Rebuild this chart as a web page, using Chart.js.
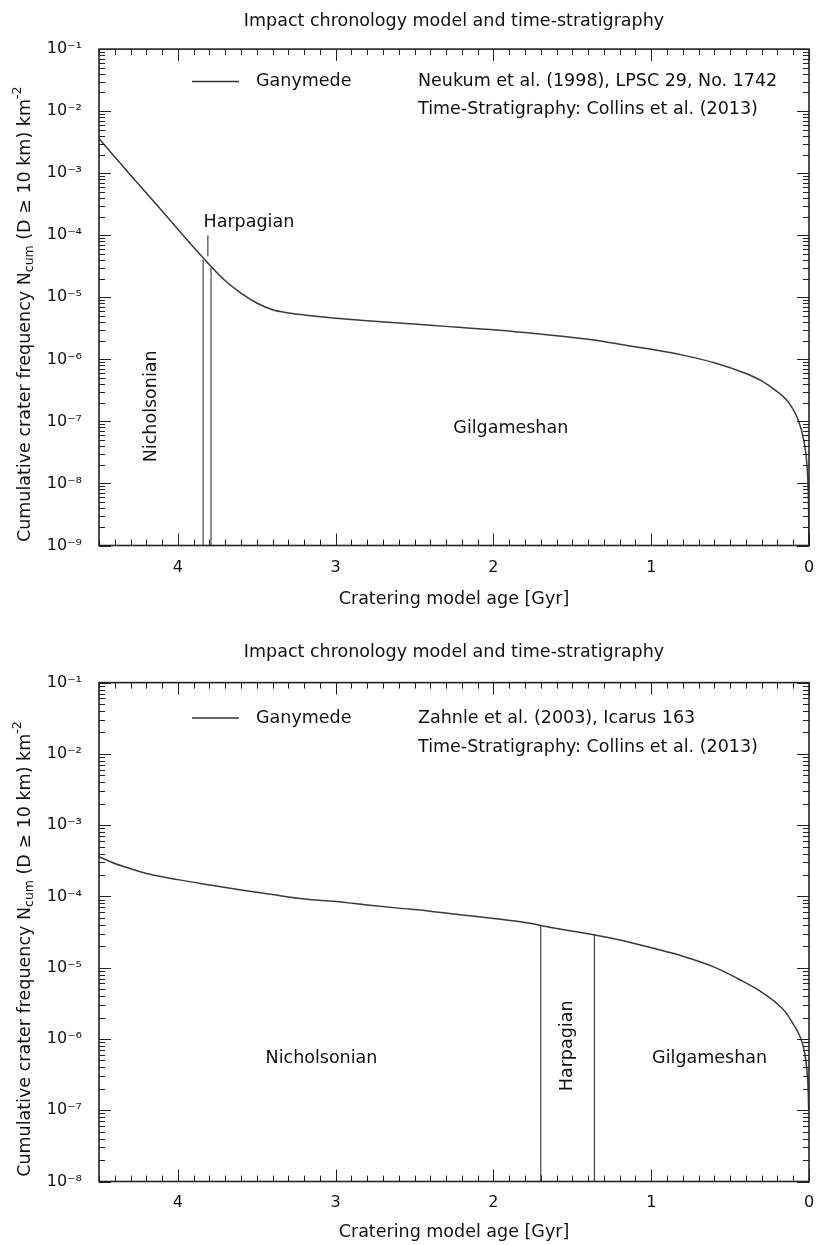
<!DOCTYPE html>
<html>
<head>
<meta charset="utf-8">
<title>Ganymede impact chronology</title>
<script src="https://cdn.jsdelivr.net/npm/chart.js@4/dist/chart.umd.min.js"></script>
<style>
  html, body { margin: 0; padding: 0; background: #fff; overflow: hidden; }
  .box { position: absolute; left: 0; width: 818px; }
  #box1 { top: 0; height: 620px; }
  #box2 { top: 631px; height: 614px; }
</style>
</head>
<body>
<div class="box" id="box1"><canvas id="neukumChart"></canvas></div>
<div class="box" id="box2"><canvas id="zahnleChart"></canvas></div>
<script>
/* Ganymede, Neukum et al. (1998): age [Gyr] -> N(D>=10 km) per km^2 */
const neukumAge = [4.5, 4.4, 4.3, 4.2, 4.1, 4.0, 3.9, 3.8, 3.7, 3.6, 3.5, 3.4, 3.3, 3.2, 3.0, 2.8, 2.6, 2.4, 2.2, 2.0,
                   1.8, 1.6, 1.4, 1.2, 1.0, 0.8, 0.6, 0.4, 0.3, 0.2, 0.14, 0.1, 0.07, 0.05, 0.035, 0.02, 0.01, 0.005, 0.002, 0.0006];
const neukumN = [3.6e-3, 1.83e-3, 9.3e-4, 4.8e-4, 2.45e-4, 1.25e-4, 6.4e-5, 3.35e-5, 1.85e-5, 1.17e-5, 8.1e-6, 6.3e-6, 5.6e-6, 5.2e-6, 4.6e-6, 4.2e-6, 3.85e-6, 3.55e-6, 3.25e-6, 3.0e-6,
                 2.7e-6, 2.4e-6, 2.1e-6, 1.75e-6, 1.45e-6, 1.17e-6, 8.8e-7, 5.9e-7, 4.5e-7, 3.0e-7, 2.2e-7, 1.55e-7, 1.08e-7, 7.5e-8, 5.2e-8, 3.1e-8, 1.55e-8, 7.8e-9, 3.1e-9, 9.5e-10];

/* Ganymede, Zahnle et al. (2003) */
const zahnleAge = [4.5, 4.4, 4.3, 4.2, 4.0, 3.8, 3.6, 3.4, 3.2, 3.0, 2.8, 2.6, 2.4, 2.2, 2.0, 1.8, 1.6, 1.4, 1.2, 1.0,
                   0.8, 0.6, 0.45, 0.3, 0.2, 0.15, 0.1, 0.07, 0.05, 0.035, 0.02, 0.01, 0.005, 0.002];
const zahnleN = [3.6e-4, 2.9e-4, 2.45e-4, 2.1e-4, 1.72e-4, 1.45e-4, 1.23e-4, 1.06e-4, 9.2e-5, 8.5e-5, 7.6e-5, 6.85e-5, 6.2e-5, 5.5e-5, 4.9e-5, 4.3e-5, 3.55e-5, 3.0e-5, 2.45e-5, 1.9e-5,
                 1.45e-5, 1.02e-5, 7.0e-6, 4.55e-6, 3.1e-6, 2.4e-6, 1.62e-6, 1.25e-6, 9.8e-7, 7.6e-7, 5.0e-7, 3.0e-7, 1.8e-7, 1.0e-7];

/* Collins et al. (2013) period boundaries: age and N where the line meets the curve */
const neukumBoundAge = [3.84, 3.79];
const neukumBoundN = [4.0e-5, 3.0e-5];
const zahnleBoundAge = [1.70, 1.36];
const zahnleBoundN = [3.86e-5, 2.92e-5];

const periodNames = ['Nicholsonian', 'Harpagian', 'Gilgameshan'];
const ageTicks = [0, 1, 2, 3, 4];
const neukumExp = [-9, -8, -7, -6, -5, -4, -3, -2, -1];
const zahnleExp = [-8, -7, -6, -5, -4, -3, -2, -1];

const FONT = "'DejaVu Sans', 'Liberation Sans', sans-serif";
const TXT = 17.5;
const INK = '#111';
const SUP = { '-': '\u207B', '0': '\u2070', '1': '\u00B9', '2': '\u00B2', '3': '\u00B3', '4': '\u2074',
              '5': '\u2075', '6': '\u2076', '7': '\u2077', '8': '\u2078', '9': '\u2079' };

function powLabel(v) {
  const e = Math.round(Math.log10(v));
  return '10' + String(e).split('').map(c => SUP[c]).join('');
}

// text with sub/superscript pieces, centred on (0,0) of the current transform
function drawRich(ctx, parts) {
  const big = TXT + 'px ' + FONT, small = '12.5px ' + FONT;
  let total = 0;
  parts.forEach(p => { ctx.font = p[1] ? small : big; total += ctx.measureText(p[0]).width; });
  let x = -total / 2;
  parts.forEach(p => {
    ctx.font = p[1] ? small : big;
    const dy = p[1] === 'sub' ? 5 : p[1] === 'sup' ? -7 : 0;
    ctx.fillText(p[0], x, dy);
    x += ctx.measureText(p[0]).width;
  });
}

// frame with inward ticks on all four sides, key and period labels
const framePlugin = {
  id: 'gnuplotFrame',
  afterDatasetsDraw(chart, args, opts) {
    const { ctx, chartArea: a, scales: { x, y } } = chart;
    ctx.save();

    ctx.strokeStyle = '#222';
    ctx.lineWidth = 1;
    ctx.beginPath();
    for (let i = 0; i <= 45; i++) {
      const px = Math.round(x.getPixelForValue(i / 10)) + 0.5;
      const len = i % 10 === 0 ? 12 : 6;
      ctx.moveTo(px, a.bottom); ctx.lineTo(px, a.bottom - len);
      ctx.moveTo(px, a.top); ctx.lineTo(px, a.top + len);
    }
    const ex = opts.exps;
    for (let k = 0; k < ex.length; k++) {
      for (let m = 1; m <= 9; m++) {
        if (k === ex.length - 1 && m > 1) break;
        const py = Math.round(y.getPixelForValue(m * Math.pow(10, ex[k]))) + 0.5;
        const len = m === 1 ? 12 : 6;
        ctx.moveTo(a.left, py); ctx.lineTo(a.left + len, py);
        ctx.moveTo(a.right, py); ctx.lineTo(a.right - len, py);
      }
    }
    ctx.stroke();

    ctx.lineWidth = 1.6;
    ctx.strokeRect(a.left, a.top, a.right - a.left, a.bottom - a.top);

    // key
    ctx.fillStyle = INK;
    ctx.font = TXT + 'px ' + FONT;
    ctx.textBaseline = 'middle';
    ctx.textAlign = 'left';
    ctx.strokeStyle = '#333';
    ctx.lineWidth = 1.3;
    ctx.beginPath();
    ctx.moveTo(192, opts.keyY[0]); ctx.lineTo(239, opts.keyY[0]);
    ctx.stroke();
    ctx.fillText('Ganymede', 256, opts.keyY[0]);
    ctx.fillText(opts.source, 418, opts.keyY[0]);
    ctx.fillText('Time-Stratigraphy: Collins et al. (2013)', 418, opts.keyY[1]);

    // period names placed in data coordinates
    ctx.textAlign = 'center';
    opts.labels.forEach(l => {
      const px = x.getPixelForValue(l.age), py = y.getPixelForValue(l.n);
      ctx.save();
      ctx.translate(px, py);
      if (l.rotate) ctx.rotate(-Math.PI / 2);
      ctx.fillText(periodNames[l.name], 0, 0);
      ctx.restore();
    });

    // y axis title
    ctx.save();
    ctx.translate(25, (a.top + a.bottom) / 2 + 17);
    ctx.rotate(-Math.PI / 2);
    ctx.textAlign = 'left';
    drawRich(ctx, [['Cumulative crater frequency N', 0], ['cum', 'sub'], [' (D \u2265 10 km) km', 0], ['-2', 'sup']]);
    ctx.restore();

    ctx.restore();
  }
};

function vline(age, top, bottom) {
  return { data: [{ x: age, y: bottom }, { x: age, y: top }], borderColor: '#444', borderWidth: 1.2, pointRadius: 0 };
}

function makeChart(id, s) {
  const yMin = Math.pow(10, s.exps[0]);
  const datasets = [{
    label: 'Ganymede',
    data: s.age.map((t, i) => ({ x: t, y: s.n[i] })),
    borderColor: '#3a3a3a',
    borderWidth: 1.5,
    pointRadius: 0,
    cubicInterpolationMode: 'monotone'
  }];
  s.boundAge.forEach((t, i) => datasets.push(vline(t, s.boundN[i], yMin)));
  (s.extraLines || []).forEach(l => datasets.push(vline(l.age, l.top, l.bottom)));

  return new Chart(document.getElementById(id), {
    type: 'line',
    data: { datasets },
    options: {
      responsive: true,
      maintainAspectRatio: false,
      animation: false,
      layout: { padding: { left: 0, right: 9, top: 0, bottom: 0 } },
      plugins: {
        legend: { display: false },
        tooltip: { enabled: false },
        title: {
          display: true,
          fullSize: false,
          text: 'Impact chronology model and time-stratigraphy',
          color: INK,
          font: { family: FONT, size: TXT, weight: 'normal' },
          padding: { top: 10.5, bottom: s.titleGap }
        },
        gnuplotFrame: { exps: s.exps, keyY: s.keyY, source: s.source, labels: s.labels }
      },
      scales: {
        x: {
          type: 'linear',
          min: 0,
          max: 4.5,
          reverse: true,
          grid: { display: false, drawTicks: false },
          border: { display: false },
          afterBuildTicks: sc => { sc.ticks = ageTicks.map(v => ({ value: v })); },
          afterFit: sc => { sc.height = s.xHeight; },
          ticks: { color: INK, font: { family: FONT, size: 16 }, padding: s.tickGap, callback: v => String(v) },
          title: {
            display: true,
            text: 'Cratering model age [Gyr]',
            color: INK,
            font: { family: FONT, size: TXT },
            padding: { top: 0, bottom: s.xTitleGap }
          }
        },
        y: {
          type: 'logarithmic',
          min: yMin,
          max: Math.pow(10, s.exps[s.exps.length - 1]),
          grid: { display: false, drawTicks: false },
          border: { display: false },
          afterBuildTicks: sc => { sc.ticks = s.exps.map(e => ({ value: Math.pow(10, e) })); },
          afterFit: sc => { sc.width = 99; },
          ticks: { color: INK, font: { family: FONT, size: 16 }, padding: 17, callback: v => powLabel(v) }
        }
      }
    },
    plugins: [framePlugin]
  });
}

makeChart('neukumChart', {
  age: neukumAge, n: neukumN, exps: neukumExp,
  boundAge: neukumBoundAge, boundN: neukumBoundN,
  extraLines: [{ age: 3.81, bottom: 4.6e-5, top: 1.0e-4 }],
  source: 'Neukum et al. (1998), LPSC 29, No. 1742',
  keyY: [81.5, 109],
  titleGap: 17.6, xHeight: 74.5, tickGap: 12.9, xTitleGap: 9.8,
  labels: [
    { name: 0, age: 4.17, n: 1.75e-7, rotate: true },
    { name: 1, age: 3.55, n: 1.6e-4 },
    { name: 2, age: 1.89, n: 7.8e-8 }
  ]
});

makeChart('zahnleChart', {
  age: zahnleAge, n: zahnleN, exps: zahnleExp,
  boundAge: zahnleBoundAge, boundN: zahnleBoundN,
  source: 'Zahnle et al. (2003), Icarus 163',
  keyY: [87, 116],
  titleGap: 20.1, xHeight: 63.5, tickGap: 11.9, xTitleGap: 1.8,
  labels: [
    { name: 0, age: 3.09, n: 5.4e-7 },
    { name: 1, age: 1.533, n: 8.0e-7, rotate: true },
    { name: 2, age: 0.63, n: 5.4e-7 }
  ]
});
</script>
</body>
</html>
